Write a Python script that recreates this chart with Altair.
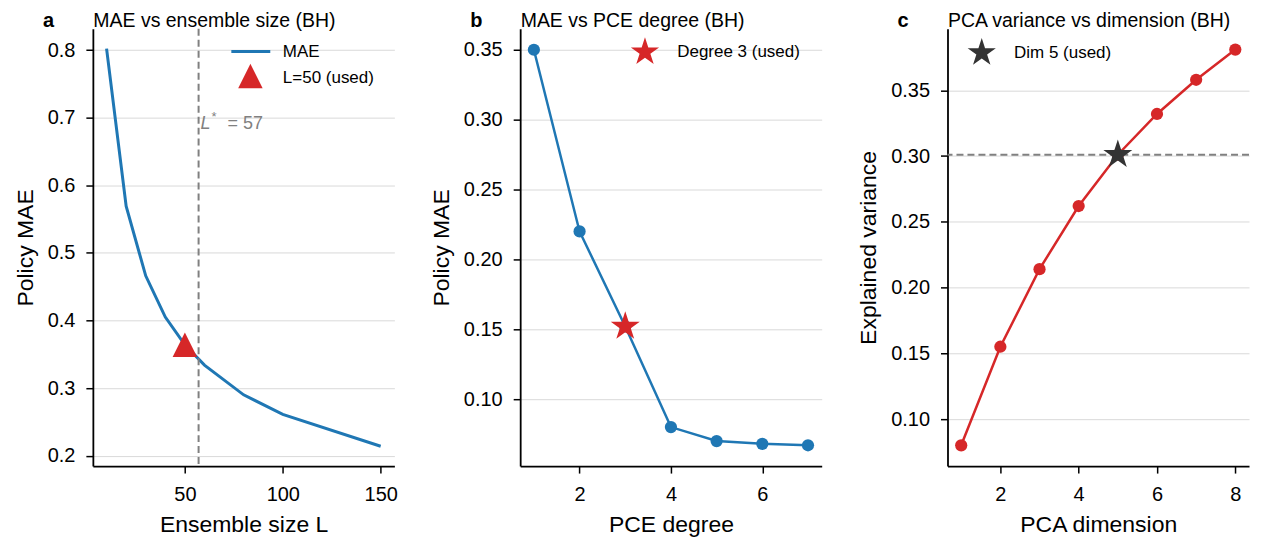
import math
import altair as alt
import pandas as pd

# ---------------- data ----------------
# Panel a: MAE vs ensemble size
ens_L = [10, 20, 30, 40, 50, 60, 80, 100, 150]
ens_mae = [0.802, 0.569, 0.466, 0.405, 0.364, 0.334, 0.290, 0.261, 0.214]
L_used = [50]
L_used_mae = [0.364]
L_star = [57]

# Panel b: MAE vs PCE degree
pce_deg = [1, 2, 3, 4, 5, 6, 7]
pce_mae = [0.350, 0.220, 0.152, 0.080, 0.070, 0.068, 0.067]
deg_used = [3]
deg_used_mae = [0.152]

# Panel c: PCA variance vs dimension
pca_dim = [1, 2, 3, 4, 5, 6, 7, 8]
pca_var = [0.080, 0.155, 0.214, 0.262, 0.301, 0.332, 0.358, 0.381]
dim_used = [5]
dim_used_var = [0.301]

BLUE = "#1f77b4"
RED = "#d62728"
DARK = "#333333"
GRAY = "#808080"
FONT = "Liberation Sans"

W, H = 302, 438


def star_path(inner=0.381966):
    pts = []
    for i in range(10):
        r = 1.0 if i % 2 == 0 else inner
        ang = math.pi / 2 + i * math.pi / 5
        pts.append((r * math.cos(ang), -r * math.sin(ang)))
    return "M" + "L".join(f"{x:.4f},{y:.4f}" for x, y in pts) + "Z"


STAR = star_path()
TRI = "M0,-1L1,1L-1,1Z"
one = pd.DataFrame({"k": [0]})


def letter(ch):
    return alt.Chart(one).mark_text(
        text=ch, fontSize=20, fontWeight="bold", align="left", baseline="alphabetic",
        color="black", font=FONT
    ).encode(x=alt.value(-50), y=alt.value(-1.5))


def head(txt):
    return alt.Chart(one).mark_text(
        text=txt, fontSize=19.5, align="left", baseline="alphabetic",
        color="black", font=FONT
    ).encode(x=alt.value(0.5), y=alt.value(-2))


def label(txt, x, y, size=17, color="black"):
    return alt.Chart(one).mark_text(
        text=txt, fontSize=size, align="left", baseline="middle", color=color, font=FONT
    ).encode(x=alt.value(x), y=alt.value(y))


# ---------------- panel a ----------------
df_a = pd.DataFrame({"L": ens_L, "MAE": ens_mae})
xa = alt.X("L:Q", scale=alt.Scale(domain=[3, 157], nice=False, zero=False),
           axis=alt.Axis(values=[50, 100, 150], title="Ensemble size L"))
ya = alt.Y("MAE:Q", scale=alt.Scale(domain=[0.1846, 0.8314], nice=False, zero=False),
           axis=alt.Axis(values=[0.2, 0.3, 0.4, 0.5, 0.6, 0.7, 0.8], format=".1f",
                         title="Policy MAE"))
line_a = alt.Chart(df_a).mark_line(color=BLUE, strokeWidth=3).encode(x=xa, y=ya)
rule_a = alt.Chart(pd.DataFrame({"L": L_star})).mark_rule(
    color=GRAY, strokeDash=[7, 4], strokeWidth=2).encode(x="L:Q")
tri_a = alt.Chart(pd.DataFrame({"L": L_used, "MAE": L_used_mae})).mark_point(
    shape=TRI, filled=True, color=RED, size=600, opacity=1).encode(x="L:Q", y="MAE:Q")
df_star = pd.DataFrame({"L": L_star, "y": [0.683]})
ls_L = alt.Chart(df_star).mark_text(text="L", fontSize=18, fontStyle="italic", align="left",
                                    baseline="alphabetic", color=GRAY, font=FONT, dx=2
                                    ).encode(x="L:Q", y="y:Q")
ls_s = alt.Chart(df_star).mark_text(text="*", fontSize=13, align="left",
                                    baseline="alphabetic", color=GRAY, font=FONT, dx=13, dy=-8
                                    ).encode(x="L:Q", y="y:Q")
ls_e = alt.Chart(df_star).mark_text(text="= 57", fontSize=18, align="left",
                                    baseline="alphabetic", color=GRAY, font=FONT, dx=29
                                    ).encode(x="L:Q", y="y:Q")
leg_line = alt.Chart(one).mark_rule(color=BLUE, strokeWidth=3).encode(
    x=alt.value(138.7), x2=alt.value(177.7), y=alt.value(22.7))
leg_tri = alt.Chart(one).mark_point(shape=TRI, filled=True, color=RED, size=600, opacity=1
                                    ).encode(x=alt.value(157.8), y=alt.value(47.3))
panel_a = alt.layer(
    line_a, rule_a, tri_a, ls_L, ls_s, ls_e,
    leg_line, label("MAE", 190.3, 23), leg_tri, label("L=50 (used)", 190.3, 49.3),
    letter("a"), head("MAE vs ensemble size (BH)")
).properties(width=W, height=H)

# ---------------- panel b ----------------
df_b = pd.DataFrame({"deg": pce_deg, "MAE": pce_mae})
xb = alt.X("deg:Q", scale=alt.Scale(domain=[0.7, 7.3], nice=False, zero=False),
           axis=alt.Axis(values=[2, 4, 6], title="PCE degree"))
yb = alt.Y("MAE:Q", scale=alt.Scale(domain=[0.0521, 0.3650], nice=False, zero=False),
           axis=alt.Axis(values=[0.10, 0.15, 0.20, 0.25, 0.30, 0.35], format=".2f",
                         title="Policy MAE"))
line_b = alt.Chart(df_b).mark_line(color=BLUE, strokeWidth=2.5).encode(x=xb, y=yb)
pts_b = alt.Chart(df_b).mark_circle(color=BLUE, size=150, opacity=1).encode(x="deg:Q", y="MAE:Q")
star_b = alt.Chart(pd.DataFrame({"deg": deg_used, "MAE": deg_used_mae})).mark_point(
    shape=STAR, filled=True, color=RED, size=930, opacity=1).encode(x="deg:Q", y="MAE:Q")
leg_star_b = alt.Chart(one).mark_point(shape=STAR, filled=True, color=RED, size=880, opacity=1
                                       ).encode(x=alt.value(125), y=alt.value(23.3))
panel_b = alt.layer(
    line_b, pts_b, star_b, leg_star_b, label("Degree 3 (used)", 157.3, 23.7), letter("b"),
    head("MAE vs PCE degree (BH)")
).properties(width=W, height=H)

# ---------------- panel c ----------------
df_c = pd.DataFrame({"dim": pca_dim, "var": pca_var})
xc = alt.X("dim:Q", scale=alt.Scale(domain=[0.65, 8.35], nice=False, zero=False),
           axis=alt.Axis(values=[2, 4, 6, 8], title="PCA dimension"))
yc = alt.Y("var:Q", scale=alt.Scale(domain=[0.0642, 0.3968], nice=False, zero=False),
           axis=alt.Axis(values=[0.10, 0.15, 0.20, 0.25, 0.30, 0.35], format=".2f",
                         title="Explained variance"))
hrule_c = alt.Chart(pd.DataFrame({"var": dim_used_var})).mark_rule(
    color=GRAY, strokeDash=[7, 4], strokeWidth=2).encode(y="var:Q")
line_c = alt.Chart(df_c).mark_line(color=RED, strokeWidth=2.5).encode(x=xc, y=yc)
pts_c = alt.Chart(df_c).mark_circle(color=RED, size=150, opacity=1).encode(x="dim:Q", y="var:Q")
star_c = alt.Chart(pd.DataFrame({"dim": dim_used, "var": dim_used_var})).mark_point(
    shape=STAR, filled=True, color=DARK, size=930, opacity=1).encode(x="dim:Q", y="var:Q")
leg_star_c = alt.Chart(one).mark_point(shape=STAR, filled=True, color=DARK, size=880, opacity=1
                                       ).encode(x=alt.value(34.3), y=alt.value(24))
panel_c = alt.layer(
    line_c, hrule_c, pts_c, star_c, leg_star_c, label("Dim 5 (used)", 66.7, 23.8), letter("c"),
    head("PCA variance vs dimension (BH)")
).properties(width=W, height=H)

chart = alt.hconcat(panel_a, panel_b, panel_c, spacing=126, bounds="flush").properties(
    padding={"left": 6, "top": 2.4, "right": 5, "bottom": 0}
).configure(font=FONT).configure_view(stroke=None).configure_axis(
    tickSize=7, labelPadding=11, titlePadding=10, labelFontSize=20, titleFontSize=23,
    titleFontWeight="normal", domainColor="black", domainWidth=1.8, tickColor="black",
    tickWidth=1.5, gridColor="#d9d9d9", gridWidth=1, labelColor="black", titleColor="black",
    labelFont=FONT, titleFont=FONT
).configure_axisX(grid=False).configure_axisY(grid=True)

chart.save("out.html", embed_options={"renderer": "svg", "actions": False})
